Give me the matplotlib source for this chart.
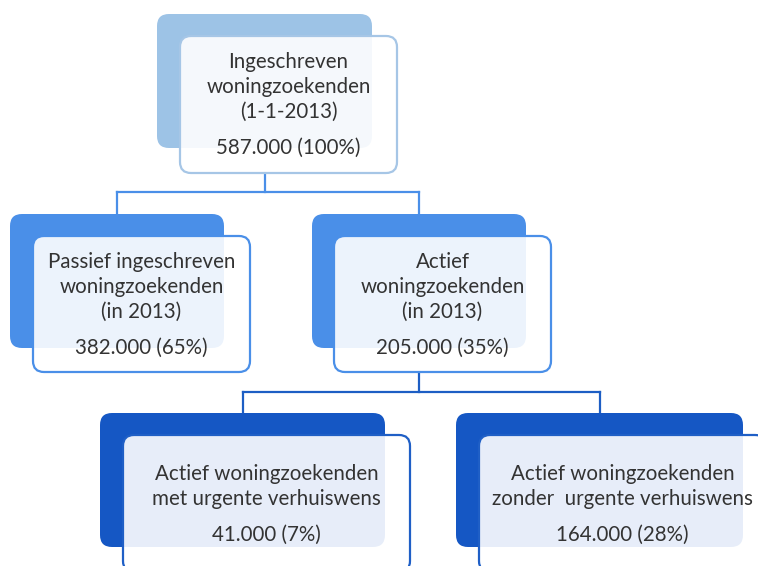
import matplotlib.pyplot as plt
from matplotlib.patches import FancyBboxPatch

# box labels (line by line), counts and shares
labels = [
    ['Ingeschreven', 'woningzoekenden', '(1-1-2013)'],
    ['Passief ingeschreven', 'woningzoekenden', '(in 2013)'],
    ['Actief', 'woningzoekenden', '(in 2013)'],
    ['Actief woningzoekenden', 'met urgente verhuiswens'],
    ['Actief woningzoekenden', 'zonder  urgente verhuiswens'],
]
aantallen = ['587.000', '382.000', '205.000', '41.000', '164.000']
procenten = [100, 65, 35, 7, 28]
ouder = [None, 0, 0, 2, 2]  # which box each box hangs under

# layout in pixels (x0, y0, x1, y1) of the back box, front box is shifted
achter = [(157, 14, 372, 148), (10, 214, 224, 348), (312, 214, 526, 348),
          (100, 413, 385, 547), (456, 413, 743, 547)]
voor = [(180, 36, 397, 173), (33, 236, 250, 372), (334, 236, 551, 372),
        (123, 435, 410, 572), (479, 435, 766, 572)]
niveau = [0, 1, 1, 2, 2]
kleur = ['#9dc3e6', '#4a8fe8', '#1557c4']
rand = ['#a6c6e6', '#4a8fe8', '#1f5fc6']
lijn = ['#4a8fe8', '#1d5ec4']
fs = 14.8

fig = plt.figure(figsize=(7.58, 5.66), dpi=100)
ax = fig.add_axes([0, 0, 1, 1])
ax.set_xlim(0, 758)
ax.set_ylim(566, 0)
ax.axis('off')

# connectors between levels
for lvl in (1, 2):
    kids = [i for i in range(len(labels)) if niveau[i] == lvl]
    p = ouder[kids[0]]
    px = (achter[p][0] + achter[p][2]) / 2
    ybar = voor[p][3] + (19 if lvl == 1 else 20)
    ax.plot([px, px], [voor[p][3], ybar], color=lijn[lvl - 1], lw=1.6, zorder=1)
    xs = [(achter[k][0] + achter[k][2]) / 2 for k in kids]
    ax.plot([min(xs), max(xs)], [ybar, ybar], color=lijn[lvl - 1], lw=1.6, zorder=1)
    for x, k in zip(xs, kids):
        ax.plot([x, x], [ybar, achter[k][1]], color=lijn[lvl - 1], lw=1.6, zorder=1)

for i in range(len(labels)):
    n = niveau[i]
    x0, y0, x1, y1 = achter[i]
    ax.add_patch(FancyBboxPatch((x0, y0), x1 - x0, y1 - y0,
                                boxstyle='round,pad=0,rounding_size=12',
                                fc=kleur[n], ec='none', zorder=2))
    x0, y0, x1, y1 = voor[i]
    ax.add_patch(FancyBboxPatch((x0, y0), x1 - x0, y1 - y0,
                                boxstyle='round,pad=0,rounding_size=11',
                                fc=(1, 1, 1, 0.9), ec=rand[n], lw=1.6, zorder=3))
    cx = (x0 + x1) / 2
    yb = y0 + 32 if len(labels[i]) == 3 else y0 + 45
    for regel in labels[i]:
        ax.text(cx, yb, regel, ha='center', va='baseline', fontsize=fs,
                family='Lato', color='#333333', zorder=4)
        yb += 25
    ax.text(cx, yb + 11, f'{aantallen[i]} ({procenten[i]}%)', ha='center',
            va='baseline', fontsize=fs, family='Lato', color='#333333', zorder=4)

fig.savefig('out.png', dpi=100)
